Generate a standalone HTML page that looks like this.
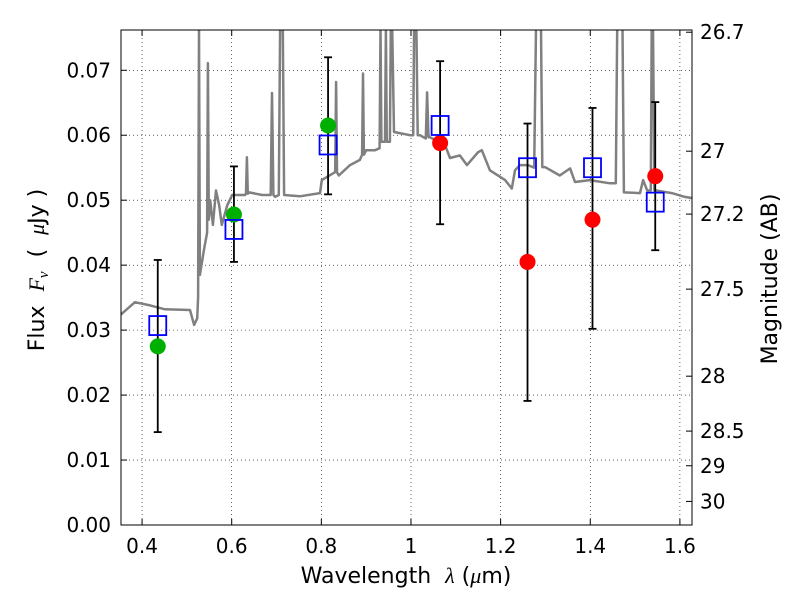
<!DOCTYPE html>
<html><head><meta charset="utf-8"><style>
body{margin:0;background:#fff}
svg text{font-family:"DejaVu Sans","Liberation Sans",sans-serif;fill:#000}
</style></head><body>
<svg id="chart" width="800" height="600"></svg>
<script>
const specWave=[0.351,0.384,0.418,0.451,0.507,0.516,0.523,0.525,0.527,0.529,0.538,0.545,0.547,0.549,0.552,0.558,0.565,0.572,0.578,0.590,0.601,0.630,0.632,0.634,0.636,0.639,0.668,0.687,0.690,0.693,0.697,0.705,0.708,0.714,0.717,0.752,0.797,0.801,0.830,0.831,0.833,0.835,0.839,0.864,0.886,0.891,0.893,0.895,0.900,0.920,0.930,0.932,0.934,0.942,0.944,0.946,0.953,0.955,0.958,0.962,0.998,1.005,1.007,1.012,1.015,1.020,1.033,1.036,1.039,1.042,1.076,1.087,1.109,1.125,1.150,1.158,1.176,1.210,1.225,1.232,1.243,1.261,1.275,1.279,1.290,1.293,1.299,1.332,1.355,1.366,1.399,1.444,1.457,1.460,1.472,1.475,1.511,1.518,1.527,1.535,1.537,1.540,1.543,1.547,1.582,1.611,1.629];
const specFlux=[0.0323,0.0343,0.0338,0.0332,0.0331,0.0308,0.0318,0.035,0.0765,0.0385,0.0423,0.045,0.0711,0.047,0.0500,0.0462,0.0515,0.0492,0.0462,0.0492,0.0508,0.0508,0.051,0.0566,0.051,0.0512,0.0508,0.0508,0.0665,0.0508,0.0505,0.0508,0.0765,0.0765,0.0508,0.0506,0.0511,0.0531,0.0543,0.0543,0.0682,0.0543,0.0538,0.0554,0.0562,0.057,0.0695,0.057,0.0577,0.0577,0.058,0.0765,0.059,0.059,0.0765,0.059,0.059,0.0765,0.0765,0.0605,0.0600,0.060,0.0765,0.0765,0.060,0.0600,0.0595,0.0666,0.0597,0.0597,0.0585,0.0565,0.0569,0.0554,0.0574,0.0577,0.0546,0.0531,0.0518,0.0546,0.0554,0.0554,0.055,0.0765,0.0765,0.0551,0.0551,0.0538,0.0549,0.0528,0.0531,0.0526,0.0526,0.0765,0.0765,0.0512,0.0511,0.0531,0.0515,0.0515,0.0765,0.0765,0.0515,0.0515,0.0511,0.0505,0.0503];
const bandWave=[0.435,0.605,0.815,1.065,1.26,1.405,1.545];
const obsFlux=[0.0275,0.0478,0.0615,0.0588,0.0405,0.047,0.0537];
const obsColor=['#00b000','#00b000','#00b000','#ff0000','#ff0000','#ff0000','#ff0000'];
const errHi=[0.0408,0.0552,0.072,0.0714,0.0618,0.0642,0.0651];
const errLo=[0.0143,0.0405,0.0509,0.0463,0.0191,0.0302,0.0423];
const modelFlux=[0.0307,0.0455,0.0585,0.0615,0.055,0.055,0.0497];
const xTicks=[0.4,0.6,0.8,1.0,1.2,1.4,1.6];
const xTickLabels=['0.4','0.6','0.8','1','1.2','1.4','1.6'];
const yTicks=[0,0.01,0.02,0.03,0.04,0.05,0.06,0.07];
const magTicks=[26.7,27,27.2,27.5,28,28.5,29,30];
const magLabels=['26.7','27','27.2','27.5','28','28.5','29','30'];

const L=121,R=692,T=30,B=525,X0=0.353,X1=1.627,Y0=0,Y1=0.0762;
const sx=v=>L+(v-X0)/(X1-X0)*(R-L);
const sy=v=>B-(v-Y0)/(Y1-Y0)*(B-T);
const magY=m=>sy(Math.pow(10,(23.9-m)/2.5));
const svg=document.getElementById('chart');
const NS='http://www.w3.org/2000/svg';
function mk(tag,attrs,parent){const e=document.createElementNS(NS,tag);for(const k in attrs)e.setAttribute(k,attrs[k]);(parent||svg).appendChild(e);return e;}
const defs=mk('defs',{});const cp=mk('clipPath',{id:'clip'},defs);mk('rect',{x:L,y:T,width:R-L,height:B-T},cp);

xTicks.forEach(t=>{const g=mk('line',{x1:sx(t),x2:sx(t),y1:T,y2:B,stroke:'#000','stroke-width':0.6,'stroke-dasharray':'1,3'});

});
yTicks.forEach(t=>{const g=mk('line',{x1:L,x2:R,y1:sy(t),y2:sy(t),stroke:'#000','stroke-width':0.6,'stroke-dasharray':'1,3'});

});

let d='';specWave.forEach((w,i)=>{d+=(i?'L':'M')+sx(w).toFixed(1)+','+sy(specFlux[i]).toFixed(1);});
const sp=mk('path',{d:d,fill:'none',stroke:'#808080','stroke-width':2.5,'stroke-linejoin':'round','clip-path':'url(#clip)'});



bandWave.forEach((w,i)=>{const x=sx(w);
const g=mk('g',{stroke:'#000','stroke-width':1.8});


mk('line',{x1:x,x2:x,y1:sy(errHi[i]),y2:sy(errLo[i])},g);
mk('line',{x1:x-4,x2:x+4,y1:sy(errHi[i]),y2:sy(errHi[i])},g);
mk('line',{x1:x-4,x2:x+4,y1:sy(errLo[i]),y2:sy(errLo[i])},g);});

bandWave.forEach((w,i)=>{const c=mk('circle',{cx:sx(w),cy:sy(obsFlux[i]),r:8,fill:obsColor[i]});

});
bandWave.forEach((w,i)=>{const r=mk('rect',{x:sx(w)-8.5,y:sy(modelFlux[i])-9.5,width:17,height:19,fill:'none',stroke:'#0000ff','stroke-width':1.8});

});

const fr=mk('rect',{x:L,y:T,width:R-L,height:B-T,fill:'none',stroke:'#000','stroke-width':1});



xTicks.forEach((t,i)=>{const x=sx(t);
mk('line',{x1:x,x2:x,y1:B,y2:B-6,stroke:'#000'});mk('line',{x1:x,x2:x,y1:T,y2:T+6,stroke:'#000'});
const tx=mk('text',{x:x,y:B+28,'text-anchor':'middle','font-size':20});tx.textContent=xTickLabels[i];

});
yTicks.forEach(t=>{const y=sy(t);
mk('line',{x1:L,x2:L+6,y1:y,y2:y,stroke:'#000'});
const tx=mk('text',{x:L-10,y:y+7,'text-anchor':'end','font-size':20});tx.textContent=t.toFixed(2);

});
magTicks.forEach((m,i)=>{const y=magY(m);
mk('line',{x1:R,x2:R-6,y1:y,y2:y,stroke:'#000'});
const tx=mk('text',{x:R+8,y:y+7,'font-size':20});tx.textContent=magLabels[i];

});
</script>
<svg width="800" height="600" style="position:absolute;left:0;top:0">
<text x="406" y="583" text-anchor="middle" font-size="22" xml:space="preserve">Wavelength  <tspan font-style="italic" font-family="Liberation Serif,serif">λ</tspan> (<tspan font-style="italic" font-family="Liberation Serif,serif">μ</tspan>m)</text>
<text transform="translate(44,270) rotate(-90)" text-anchor="middle" font-size="22" xml:space="preserve">Flux  <tspan font-style="italic" font-family="Liberation Serif,serif">F<tspan font-size="15" dy="4">ν</tspan></tspan><tspan dy="-4">  (  </tspan><tspan font-style="italic" font-family="Liberation Serif,serif">μ</tspan>Jy )</text>
<text transform="translate(777,279) rotate(-90)" text-anchor="middle" font-size="22">Magnitude (AB)</text>
</svg>
</body></html>
